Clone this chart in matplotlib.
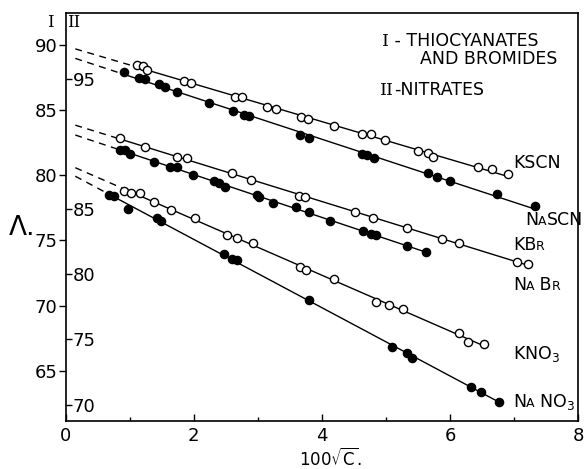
import numpy as np
import matplotlib
matplotlib.use('Agg')
import matplotlib.pyplot as plt
from matplotlib.offsetbox import TextArea, HPacker, AnnotationBbox

plt.rcParams['font.family'] = ['DejaVu Sans']
plt.rcParams['mathtext.default'] = 'regular'

# ---------------- data (scale I: thiocyanates & bromides) ----------------
kscn_x = [1.11, 1.20, 1.27, 1.84, 1.95, 2.65, 2.75, 3.14, 3.29, 3.67, 3.78,
          4.19, 4.63, 4.76, 4.98, 5.50, 5.66, 5.73, 6.44, 6.65, 6.90]
kscn_y = [88.44, 88.39, 88.08, 87.26, 87.06, 86.03, 85.99, 85.26, 85.09, 84.50, 84.32,
          83.81, 83.15, 83.15, 82.69, 81.86, 81.69, 81.38, 80.66, 80.48, 80.08]

nascn_x = [0.91, 1.15, 1.24, 1.46, 1.55, 1.73, 2.24, 2.61, 2.78, 2.86, 3.66, 3.79,
           4.62, 4.70, 4.81, 5.65, 5.79, 6.00, 6.73, 7.32]
nascn_y = [87.95, 87.44, 87.37, 86.98, 86.80, 86.42, 85.57, 84.93, 84.63, 84.53, 83.09, 82.90,
           81.63, 81.55, 81.30, 80.15, 79.89, 79.59, 78.56, 77.64]

kbr_x = [0.85, 1.24, 1.73, 1.90, 2.59, 2.89, 3.64, 3.73, 4.51, 4.80, 5.32, 5.88, 6.14, 7.05, 7.21]
kbr_y = [82.84, 82.15, 81.43, 81.35, 80.15, 79.64, 78.41, 78.36, 77.21, 76.70, 75.98, 75.09, 74.78, 73.37, 73.17]

nabr_x = [0.84, 0.93, 1.01, 1.38, 1.63, 1.73, 1.99, 2.31, 2.40, 2.49, 2.98, 3.02, 3.24,
          3.59, 3.79, 4.13, 4.64, 4.77, 4.85, 5.32, 5.62]
nabr_y = [81.94, 81.94, 81.61, 81.00, 80.66, 80.66, 80.02, 79.59, 79.43, 79.13, 78.49, 78.31, 77.85,
          77.54, 77.21, 76.52, 75.73, 75.47, 75.40, 74.57, 74.14]

# ---------------- data (scale II: nitrates) ----------------
kno3_x = [0.91, 1.02, 1.16, 1.38, 1.64, 2.02, 2.51, 2.68, 2.92, 3.66, 3.75,
          4.19, 4.84, 5.05, 5.27, 6.14, 6.28, 6.53]
kno3_y = [86.42, 86.27, 86.22, 85.53, 84.94, 84.35, 83.02, 82.76, 82.43, 80.54, 80.33,
          79.64, 77.90, 77.65, 77.32, 75.47, 74.83, 74.65]

nano3_x = [0.68, 0.76, 0.98, 1.42, 1.48, 2.47, 2.59, 2.67, 3.79, 5.09, 5.33, 5.40, 6.32, 6.48, 6.76]
nano3_y = [86.09, 86.01, 84.99, 84.30, 84.12, 81.54, 81.18, 81.10, 78.03, 74.45, 73.99, 73.56,
           71.38, 70.99, 70.22]

x_ticks = [0, 2, 4, 6, 8]
y_ticks_I = [65, 70, 75, 80, 85, 90]
y_ticks_II = [70, 75, 80, 85, 95]
II_OFFSET = 7.6
YLIM_I = (61.14, 92.46)

# ---------------- figure ----------------
fig = plt.figure(figsize=(5.88, 4.69), dpi=100)
fig.patch.set_facecolor('white')
ax = fig.add_axes([0.1117, 0.1023, 0.8718, 0.8699])
ax.set_xlim(0, 8)
ax.set_ylim(*YLIM_I)

ax2 = ax.twinx()
ax2.set_ylim(YLIM_I[0] + II_OFFSET, YLIM_I[1] + II_OFFSET)
for s in ['top', 'bottom', 'left']:
    ax2.spines[s].set_visible(False)
ax2.spines['right'].set_position(('axes', 0.0))
ax2.spines['right'].set_visible(False)
ax2.set_yticks(y_ticks_II)
ax2.tick_params(axis='y', direction='out', length=4, width=1, pad=1, labelsize=13)

lw = 1.0
ms = 5.9


def draw_series(a, xs, ys, filled):
    xs = np.asarray(xs)
    ys = np.asarray(ys)
    m, b = np.polyfit(xs, ys, 1)
    x0, x1 = xs.min(), xs.max()
    a.plot([0.15, x0], [m * 0.15 + b, m * x0 + b], color='black', lw=1.0,
           linestyle=(0, (5, 4)), zorder=2)
    a.plot([x0, x1], [m * x0 + b, m * x1 + b], color='black', lw=lw, zorder=2)
    a.plot(xs, ys, linestyle='none', marker='o', ms=ms,
           markerfacecolor='black' if filled else 'white',
           markeredgecolor='black', markeredgewidth=1.0, zorder=3)


draw_series(ax, kscn_x, kscn_y, False)
draw_series(ax, nascn_x, nascn_y, True)
draw_series(ax, kbr_x, kbr_y, False)
draw_series(ax, nabr_x, nabr_y, True)
draw_series(ax2, kno3_x, kno3_y, False)
draw_series(ax2, nano3_x, nano3_y, True)

# axes styling
for s in ax.spines.values():
    s.set_linewidth(1.2)
ax.set_xticks(x_ticks)
ax.set_xticks([1, 3, 5, 7], minor=True)
ax.tick_params(axis='x', which='major', direction='in', length=5, width=1, pad=4, labelsize=13)
ax.tick_params(axis='x', which='minor', direction='in', length=3, width=1)
ax.set_yticks(y_ticks_I)
ax.tick_params(axis='y', direction='out', length=5, width=1, pad=1, labelsize=13)


def px2d(px, py):
    return (px - 65.7) / 64.1, 90 - (py - 45) / 13.03


# axis labels
ax.text(*px2d(22, 228), 'Λ.', fontsize=19, ha='center', va='center')
fig.text(330 / 588, 1 - 459 / 469, r'100$\sqrt{C}$.', fontsize=12, ha='center', va='center')

# roman numerals at top of axis
ax.text(*px2d(50, 22), 'I', family='DejaVu Serif', fontsize=12, ha='center', va='center')
ax.text(*px2d(74, 22), 'II', family='DejaVu Serif', fontsize=12, ha='center', va='center')


def seg_label(x, y, parts, ha=0.0):
    children = []
    for txt, props in parts:
        children.append(TextArea(txt, textprops=props))
    pack = HPacker(children=children, align='baseline', pad=0, sep=0)
    ab = AnnotationBbox(pack, (x, y), xycoords=ax.transData, box_alignment=(ha, 0.5),
                        frameon=False, pad=0, annotation_clip=False)
    ax.add_artist(ab)


big = dict(fontsize=12.5, color='black')
small = dict(fontsize=9, color='black')
serif = dict(fontsize=12.5, family='DejaVu Serif', color='black')

seg_label(*px2d(381.7, 41), [('I', serif), (' - THIOCYANATES', big)])
seg_label(*px2d(558, 58.5), [('AND BROMIDES', big)], ha=1.0)
seg_label(*px2d(380, 90), [('II', serif), ('-NITRATES', big)])

seg_label(*px2d(513, 163), [('KSCN', big)])
seg_label(*px2d(525, 220), [('N', big), ('A', small), ('SCN', big)])
seg_label(*px2d(513, 245), [('KB', big), ('R', small)])
seg_label(*px2d(513, 285), [('N', big), ('A', small), (' B', big), ('R', small)])
seg_label(*px2d(513, 354), [('KNO$_3$', big)])
seg_label(*px2d(513, 402), [('N', big), ('A', small), (' NO$_3$', big)])

fig.savefig('out.png', dpi=100, facecolor='white')
